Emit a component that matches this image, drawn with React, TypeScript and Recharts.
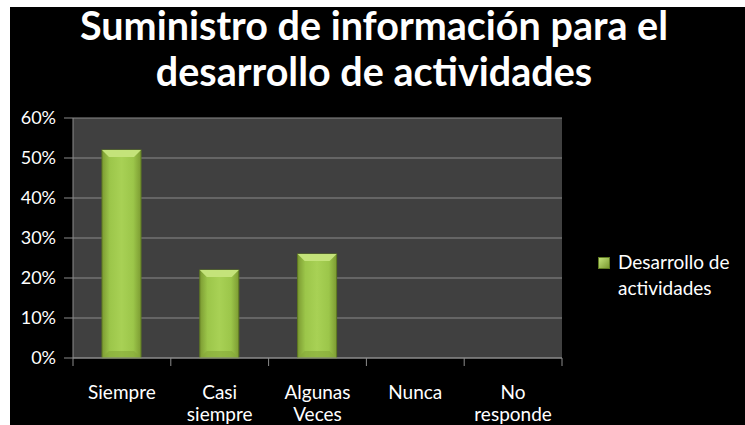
import React from 'react';
import { BarChart, Bar, XAxis, YAxis, CartesianGrid } from 'recharts';

const categories = ['Siempre', 'Casi siempre', 'Algunas Veces', 'Nunca', 'No responde'];
const values = [52, 22, 26, 0, 0];
const yTicks = [0, 10, 20, 30, 40, 50, 60];
const seriesName = 'Desarrollo de actividades';
const titleLines = ['Suministro de información para el', 'desarrollo de actividades'];
const legendLines = ['Desarrollo de', 'actividades'];

const labelLines: Record<string, string[]> = {
  'Siempre': ['Siempre'],
  'Casi siempre': ['Casi', 'siempre'],
  'Algunas Veces': ['Algunas', 'Veces'],
  'Nunca': ['Nunca'],
  'No responde': ['No', 'responde'],
};

const data = categories.map((c, i) => ({ name: c, value: values[i] }));

const FONT = 'Lato, "Open Sans", sans-serif';
const BAND = 489 / categories.length;

const BevelBar = (props: any) => {
  const { x, y, width, height } = props;
  if (!height || height <= 0) return null;
  const b = 7;
  return (
    <g>
      <rect x={x} y={y} width={width} height={height} fill="url(#barGrad)" stroke="#5f7a22" strokeWidth={1} />
      <polygon points={`${x},${y} ${x + width},${y} ${x + width - b},${y + b} ${x + b},${y + b}`} fill="#c4e37a" />
      <polygon points={`${x},${y + height} ${x + width},${y + height} ${x + width - b},${y + height - b} ${x + b},${y + height - b}`} fill="#86a838" opacity={0.6} />
    </g>
  );
};

const XTick = (props: any) => {
  const { x, y, payload, index } = props;
  const lines = labelLines[payload.value] || [payload.value];
  const left = x - BAND / 2;
  return (
    <g>
      <line x1={left} y1={y - 8} x2={left} y2={y} stroke="#8c8c8c" />
      {index === categories.length - 1 && (
        <line x1={x + BAND / 2} y1={y - 8} x2={x + BAND / 2} y2={y} stroke="#8c8c8c" />
      )}
      {lines.map((l, i) => (
        <text key={i} x={x} y={y + 33 + i * 22} textAnchor="middle" fill="#ffffff" fontSize={19} fontFamily={FONT}>
          {l}
        </text>
      ))}
    </g>
  );
};

export default function App() {
  return (
    <>
      <div style={{ position: 'absolute', left: 10, top: 7, width: 735, height: 418, overflow: 'hidden', background: '#000000' }}>
        <div style={{ position: 'absolute', left: 588, top: 242, display: 'flex', alignItems: 'flex-start', fontFamily: FONT, color: '#ffffff', fontSize: 19, lineHeight: '26px' }}>
          <div style={{ width: 10, height: 10, marginTop: 8, marginRight: 8, background: 'linear-gradient(135deg, #c4e37a, #7a9a30)', border: '1px solid #5f7a22' }} />
          <div>
            {legendLines.map((l, i) => (
              <div key={i}>{l}</div>
            ))}
          </div>
        </div>
        <BarChart
          width={735}
          height={450}
          data={data}
          margin={{ top: 111, right: 183, left: 3, bottom: 39 }}
          barSize={39}
        >
          <defs>
            <linearGradient id="barGrad" x1="0" y1="0" x2="1" y2="0">
              <stop offset="0%" stopColor="#7c9b32" />
              <stop offset="20%" stopColor="#9cc64a" />
              <stop offset="50%" stopColor="#a8d155" />
              <stop offset="80%" stopColor="#9cc64a" />
              <stop offset="100%" stopColor="#7c9b32" />
            </linearGradient>
          </defs>
          <CartesianGrid vertical={false} stroke="#8a8a8a" fill="#404040" />
          <XAxis
            dataKey="name"
            height={60}
            stroke="#8c8c8c"
            tickLine={false}
            tick={<XTick />}
            interval={0}
          />
          <YAxis
            width={60}
            domain={[0, 60]}
            ticks={yTicks}
            stroke="#8c8c8c"
            tickSize={9}
            tickMargin={8}
            tickFormatter={(v: number) => `${v}%`}
            tick={{ fill: '#ffffff', fontSize: 18, fontFamily: FONT }}
          />
          <Bar dataKey="value" name={seriesName} shape={<BevelBar />} isAnimationActive={false} />
        </BarChart>
      </div>
      <div style={{ position: 'absolute', left: 10, top: 2, width: 728, textAlign: 'center', color: '#ffffff', fontFamily: FONT, fontWeight: 700, fontSize: 39.5, lineHeight: '46px' }}>
        {titleLines.map((t, i) => (
          <div key={i}>{t}</div>
        ))}
      </div>
    </>
  );
}
